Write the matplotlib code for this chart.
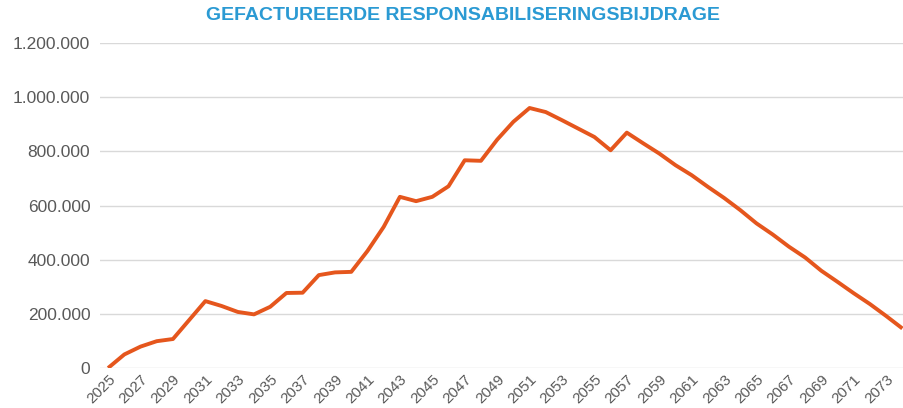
import matplotlib
matplotlib.use("Agg")
import matplotlib.pyplot as plt
from matplotlib.ticker import FuncFormatter

# yearly invoiced contribution
years = list(range(2025, 2075))
bijdrage = [
    0, 50000, 79000, 99000, 107000, 177000, 247000, 229000, 207000, 198000,
    226000, 277000, 278000, 343000, 353000, 355000, 432000, 521000, 632000, 616000,
    632000, 671000, 767000, 765000, 843000, 909000, 960000, 945000, 915000, 884000,
    853000, 804000, 869000, 830000, 792000, 749000, 712000, 669000, 628000, 583000,
    534000, 493000, 448000, 408000, 359000, 318000, 276000, 236000, 192000, 146000,
]
y_ticks = [0, 200000, 400000, 600000, 800000, 1000000, 1200000]
title = "GEFACTUREERDE RESPONSABILISERINGSBIJDRAGE"

plt.rcParams["font.family"] = ["Liberation Sans", "DejaVu Sans"]

fig = plt.figure(figsize=(9.04, 4.08), dpi=100)
ax = fig.add_axes([100 / 904, 40 / 408, 804 / 904, 325 / 408])

x = list(range(len(years)))
ax.plot(x, bijdrage, color="#E5561D", linewidth=2.8, solid_capstyle="butt",
        solid_joinstyle="round", zorder=3)

ax.set_xlim(-0.5, 49.1)
ax.set_ylim(0, 1200000)
ax.set_yticks(y_ticks)
ax.yaxis.set_major_formatter(
    FuncFormatter(lambda v, p: f"{int(v):,}".replace(",", ".")))
ax.grid(axis="y", color="#D9D9D9", linewidth=1)
ax.set_axisbelow(True)

ax.set_xticks(x[::2])
ax.set_xticklabels([str(y) for y in years[::2]], rotation=45,
                   ha="right", rotation_mode="anchor")

for s in ax.spines.values():
    s.set_visible(False)
ax.tick_params(axis="both", length=0, colors="#595959")
ax.tick_params(axis="y", pad=7, labelsize=12.5)
ax.tick_params(axis="x", pad=3, labelsize=11)

fig.text(463 / 904, 1 - 16 / 408, title, ha="center", va="center",
         color="#2B9AD3", fontsize=14, fontweight="bold")

fig.savefig("out.png", dpi=100)
